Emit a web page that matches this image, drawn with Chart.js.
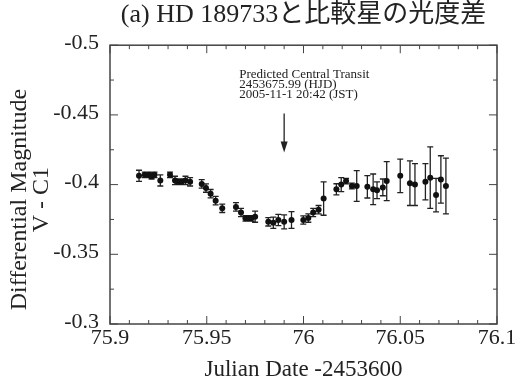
<!DOCTYPE html>
<html>
<head>
<meta charset="utf-8">
<script src="https://cdn.jsdelivr.net/npm/chart.js@4.4.1/dist/chart.umd.min.js"></script>
<style>
  html, body { margin: 0; padding: 0; background: #fff; }
</style>
</head>
<body>
<canvas id="lc" width="515" height="384"></canvas>
<script>
// Julian Date - 2453600
const julianDate = [
  75.915, 75.918, 75.920, 75.9215, 75.923, 75.926, 75.931, 75.9336, 75.935, 75.937,
  75.939, 75.9414, 75.9474, 75.9496, 75.952, 75.9546, 75.958, 75.9651, 75.9677, 75.970,
  75.9715, 75.973, 75.975, 75.9818, 75.9844, 75.987, 75.990, 75.9938, 75.9999, 76.0025,
  76.005, 76.0078, 76.0104, 76.017, 76.0195, 76.022, 76.025, 76.0275, 76.033, 76.036,
  76.038, 76.041, 76.043, 76.050, 76.055, 76.0576, 76.063, 76.0655, 76.0685, 76.071,
  76.0736
];
// V - C1 differential magnitude
const diffMag = [
  -0.4063, -0.407, -0.407, -0.406, -0.407, -0.403, -0.407, -0.403, -0.402, -0.402,
  -0.403, -0.402, -0.4005, -0.3975, -0.3935, -0.3885, -0.383, -0.384, -0.380, -0.3758,
  -0.3758, -0.3758, -0.377, -0.3733, -0.3726, -0.3746, -0.3733, -0.3746, -0.3746, -0.376,
  -0.380, -0.382, -0.390, -0.3966, -0.400, -0.4025, -0.399, -0.399, -0.3984, -0.3966,
  -0.396, -0.398, -0.4025, -0.4063, -0.401, -0.400, -0.402, -0.405, -0.3925, -0.4037,
  -0.399
];
const magErr = [
  0.004, 0.002, 0.002, 0.002, 0.002, 0.004, 0.002, 0.003, 0.002, 0.002,
  0.003, 0.003, 0.003, 0.003, 0.003, 0.003, 0.003, 0.003, 0.003, 0.002,
  0.002, 0.002, 0.004, 0.003, 0.004, 0.004, 0.005, 0.006, 0.003, 0.003,
  0.003, 0.003, 0.012, 0.004, 0.005, 0.002, 0.002, 0.011, 0.008, 0.011,
  0.006, 0.006, 0.014, 0.012, 0.016, 0.015, 0.013, 0.022, 0.012, 0.017,
  0.020
];

const transitJD = 75.99;
const arrowFrom = -0.451;
const arrowTo = -0.423;
const transitNote = ["Predicted Central Transit", "2453675.99 (HJD)", "2005-11-1 20:42 (JST)"];
const yTitleLines = ["Differential Magnitude", "V - C1"];

const serif = "'Liberation Serif', 'Noto Sans CJK JP', serif";
const ink = "#222";

const errorBars = {
  id: "errorBars",
  beforeDatasetsDraw(chart) {
    const { ctx, scales: { x, y } } = chart;
    ctx.save();
    ctx.strokeStyle = ink;
    ctx.lineWidth = 1.3;
    ctx.beginPath();
    julianDate.forEach((jd, i) => {
      const px = x.getPixelForValue(jd);
      const hi = y.getPixelForValue(diffMag[i] - magErr[i]);
      const lo = y.getPixelForValue(diffMag[i] + magErr[i]);
      ctx.moveTo(px, hi); ctx.lineTo(px, lo);
      ctx.moveTo(px - 3, hi); ctx.lineTo(px + 3, hi);
      ctx.moveTo(px - 3, lo); ctx.lineTo(px + 3, lo);
    });
    ctx.stroke();
    ctx.restore();
  }
};

// box round the plot with inward ticks on all four sides
const frameTicks = {
  id: "frameTicks",
  afterDraw(chart) {
    const { ctx, chartArea: a, scales: { x, y } } = chart;
    ctx.save();
    ctx.strokeStyle = "#444";
    ctx.lineWidth = 1.5;
    ctx.strokeRect(a.left, a.top, a.right - a.left, a.bottom - a.top);
    ctx.lineWidth = 1;
    ctx.beginPath();
    const nx = Math.round((x.max - x.min) / 0.01);
    for (let i = 0; i <= nx; i++) {
      const px = x.getPixelForValue(x.min + i * 0.01);
      const len = i % 5 === 0 ? 8 : 4;
      ctx.moveTo(px, a.bottom); ctx.lineTo(px, a.bottom - len);
      ctx.moveTo(px, a.top); ctx.lineTo(px, a.top + len);
    }
    const ny = Math.round((y.max - y.min) / 0.025);
    for (let i = 0; i <= ny; i++) {
      const py = y.getPixelForValue(y.min + i * 0.025);
      const len = i % 2 === 0 ? 8 : 4;
      ctx.moveTo(a.left, py); ctx.lineTo(a.left + len, py);
      ctx.moveTo(a.right, py); ctx.lineTo(a.right - len, py);
    }
    ctx.stroke();
    ctx.restore();
  }
};

const transitMark = {
  id: "transitMark",
  afterDraw(chart) {
    const { ctx, scales: { x, y } } = chart;
    const px = x.getPixelForValue(transitJD);
    const top = y.getPixelForValue(arrowFrom);
    const tip = y.getPixelForValue(arrowTo);
    ctx.save();
    ctx.strokeStyle = ink;
    ctx.fillStyle = ink;
    ctx.lineWidth = 1.3;
    ctx.beginPath();
    ctx.moveTo(px, top); ctx.lineTo(px, tip - 8);
    ctx.stroke();
    ctx.beginPath();
    ctx.moveTo(px - 3.5, tip - 11);
    ctx.lineTo(px + 3.5, tip - 11);
    ctx.lineTo(px, tip);
    ctx.closePath();
    ctx.fill();
    ctx.font = "13px " + serif;
    ctx.textAlign = "left";
    ctx.textBaseline = "middle";
    transitNote.forEach((line, i) => {
      ctx.fillText(line, px - 45, top - 39 + i * 10);
    });
    ctx.restore();
  }
};

// two-line rotated y title, sitting a little below the middle of the axis
const yTitle = {
  id: "yTitle",
  afterDraw(chart) {
    const { ctx, chartArea: a } = chart;
    ctx.save();
    ctx.translate(0, (a.top + a.bottom) / 2 + 15);
    ctx.rotate(-Math.PI / 2);
    ctx.font = "24px " + serif;
    ctx.fillStyle = ink;
    ctx.textAlign = "center";
    ctx.textBaseline = "middle";
    yTitleLines.forEach((t, i) => ctx.fillText(t, 0, 20 + i * 22));
    ctx.restore();
  }
};

const fmt = (v) => String(Number(v.toFixed(2)));

new Chart(document.getElementById("lc"), {
  type: "scatter",
  data: {
    datasets: [{
      data: julianDate.map((jd, i) => ({ x: jd, y: diffMag[i] })),
      pointRadius: 3,
      pointBackgroundColor: "#111",
      pointBorderColor: "#111",
      pointBorderWidth: 0
    }]
  },
  options: {
    responsive: false,
    animation: false,
    devicePixelRatio: 1,
    layout: { padding: { left: 0, right: 18, top: 0, bottom: 0 } },
    plugins: {
      legend: { display: false },
      tooltip: { enabled: false },
      title: {
        display: true,
        text: "(a) HD 189733と比較星の光度差",
        fullSize: false,
        color: ink,
        font: { family: serif, size: 26, weight: "normal" },
        padding: { top: 0, bottom: 14 }
      }
    },
    scales: {
      x: {
        type: "linear",
        min: 75.9,
        max: 76.1,
        grid: { display: false },
        border: { display: false },
        ticks: {
          stepSize: 0.05,
          padding: -7,
          color: ink,
          font: { family: serif, size: 22 },
          callback: fmt
        },
        title: {
          display: true,
          text: "Julian Date -2453600",
          color: ink,
          font: { family: serif, size: 23 },
          padding: { top: 0, bottom: 0 }
        },
        afterFit: (s) => { s.height = 60; }
      },
      y: {
        type: "linear",
        min: -0.5,
        max: -0.3,
        reverse: true,
        grid: { display: false },
        border: { display: false },
        ticks: {
          stepSize: 0.05,
          padding: 3,
          labelOffset: -2,
          color: ink,
          font: { family: serif, size: 22 },
          callback: fmt
        },
        title: { display: false },
        afterFit: (s) => { s.width = 110; }
      }
    }
  },
  plugins: [errorBars, frameTicks, transitMark, yTitle]
});
</script>
</body>
</html>
